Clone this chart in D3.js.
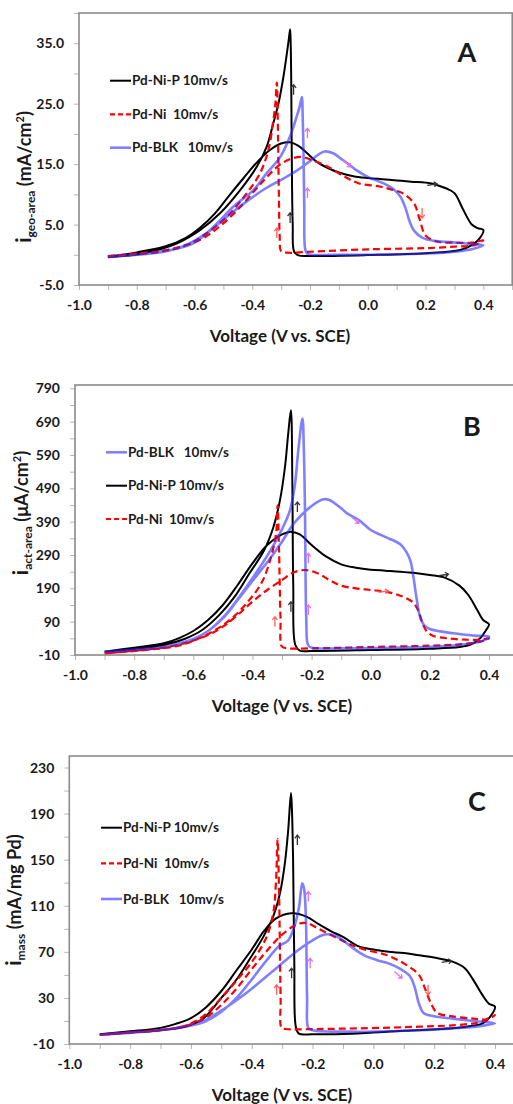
<!DOCTYPE html>
<html><head><meta charset="utf-8">
<script src="https://cdn.jsdelivr.net/npm/d3@7"></script>
<style>
body{margin:0;background:#fff}
svg{display:block}
text{font-family:Lato,"Open Sans",sans-serif;font-weight:bold;fill:#1a1a1a}
.leg{white-space:pre}
</style>
</head><body>
<svg id="c" width="513" height="1104"></svg>
<script>
// ---------- tick labels ----------
const X_TICKS = [-1.0,-0.9,-0.8,-0.7,-0.6,-0.5,-0.4,-0.3,-0.2,-0.1,0.0,0.1,0.2,0.3,0.4,0.5];
const X_LABELS = [-1.0,-0.8,-0.6,-0.4,-0.2,0.0,0.2,0.4];
const Y_LABELS_A = [-5,5,15,25,35];
const Y_LABELS_B = [-10,90,190,290,390,490,590,690,790];
const Y_LABELS_C = [-10,30,70,110,150,190,230];

// ---------- series: [voltage, current] loops (forward scan then reverse scan) ----------
const A_PdNiP = [[-0.9,-0.3],[-0.8,0.4],[-0.7,1.4],[-0.63,2.8],[-0.58,4.5],[-0.53,6.8],[-0.48,9.8],[-0.43,12.7],[-0.38,15.5],[-0.34,17.3],[-0.3,18.4],[-0.27,18.6],[-0.24,18.0],[-0.21,16.8],[-0.18,15.5],[-0.14,14.4],[-0.1,13.6],[-0.05,13.0],[0,12.7],[0.05,12.5],[0.1,12.3],[0.15,12.1],[0.22,11.8],[0.27,11.0],[0.3,10.2],[0.33,7.5],[0.36,5.0],[0.38,4.4],[0.4,4.1],
 [0.385,2.6],[0.36,1.6],[0.32,0.8],[0.2,0.25],[0,-0.05],[-0.2,-0.2],[-0.24,-0.1],[-0.255,0.5],[-0.26,5],[-0.263,15],[-0.265,28],[-0.267,35],[-0.269,37.3],[-0.274,35.5],[-0.28,33.4],[-0.292,29.5],[-0.309,25.1],[-0.327,21.8],[-0.35,17.9],[-0.384,14.6],[-0.442,10.7],[-0.511,6.9],[-0.58,4.1],[-0.66,1.9],[-0.777,0.25],[-0.9,-0.4]];
const A_PdNi = [[-0.9,-0.2],[-0.8,0.2],[-0.72,0.6],[-0.66,1.2],[-0.58,2.5],[-0.51,4.8],[-0.44,8.0],[-0.37,11.8],[-0.31,14.7],[-0.27,15.8],[-0.23,16.2],[-0.19,15.6],[-0.14,14.6],[-0.08,12.9],[-0.03,11.8],[0.04,11.3],[0.09,10.7],[0.12,10.2],[0.16,8.5],[0.18,5.8],[0.2,3.2],[0.24,2.2],[0.3,2.0],[0.36,2.0],[0.4,2.4],
 [0.37,1.6],[0.3,1.35],[0.2,1.1],[0,0.9],[-0.2,0.5],[-0.28,0.35],[-0.3,0.6],[-0.305,3],[-0.308,10],[-0.311,20],[-0.315,28.5],[-0.32,25],[-0.327,22.3],[-0.344,17.4],[-0.373,13.5],[-0.419,10.2],[-0.488,6.3],[-0.557,3.6],[-0.627,1.6],[-0.72,0.5],[-0.9,-0.3]];
const A_PdBLK = [[-0.9,-0.3],[-0.8,0],[-0.75,0.2],[-0.68,0.8],[-0.62,1.8],[-0.57,3.2],[-0.52,5.0],[-0.47,7.0],[-0.42,8.8],[-0.36,10.8],[-0.3,12.4],[-0.25,13.8],[-0.2,15.5],[-0.17,16.6],[-0.15,17.1],[-0.12,16.8],[-0.09,15.8],[-0.07,15.1],[-0.04,14.0],[0,12.9],[0.055,11.8],[0.09,10.8],[0.113,9.6],[0.13,7.8],[0.145,5.5],[0.16,4.0],[0.19,2.8],[0.23,2.3],[0.29,2.1],[0.35,1.8],[0.4,1.6],
 [0.36,0.9],[0.3,0.5],[0.228,0.25],[-0.118,0],[-0.21,0.2],[-0.217,1],[-0.22,8],[-0.223,18],[-0.226,24],[-0.228,26.1],[-0.236,24.5],[-0.246,22.9],[-0.269,19.6],[-0.303,16.2],[-0.35,13.5],[-0.396,10.7],[-0.465,8.0],[-0.534,4.65],[-0.604,1.9],[-0.754,0.25],[-0.9,-0.3]];

const B_PdNiP = [[-0.9,0],[-0.8,12],[-0.7,25],[-0.65,40],[-0.6,62],[-0.55,95],[-0.5,140],[-0.45,200],[-0.4,265],[-0.35,320],[-0.3,352],[-0.27,360],[-0.24,352],[-0.2,320],[-0.15,285],[-0.1,262],[-0.05,252],[0,246],[0.05,243],[0.1,240],[0.15,236],[0.2,230],[0.25,222],[0.3,198],[0.33,170],[0.36,125],[0.38,95],[0.4,82],
 [0.39,65],[0.37,40],[0.34,22],[0.3,14],[0.2,9],[0,5],[-0.2,2],[-0.24,3],[-0.255,20],[-0.262,200],[-0.265,500],[-0.27,724],[-0.279,654],[-0.29,554],[-0.307,454],[-0.329,374],[-0.36,305],[-0.41,235],[-0.46,165],[-0.51,112],[-0.57,65],[-0.63,38],[-0.7,20],[-0.8,8],[-0.9,0]];
const B_PdNi = [[-0.9,-5],[-0.8,3],[-0.7,12],[-0.62,28],[-0.55,50],[-0.5,75],[-0.45,110],[-0.4,150],[-0.35,185],[-0.3,215],[-0.26,238],[-0.22,245],[-0.18,235],[-0.14,215],[-0.1,198],[-0.05,190],[0,185],[0.05,180],[0.1,168],[0.14,150],[0.16,125],[0.175,85],[0.19,60],[0.21,48],[0.26,40],[0.32,36],[0.37,36],[0.4,40],
 [0.37,30],[0.3,22],[0.2,18],[0,14],[-0.2,10],[-0.28,10],[-0.3,15],[-0.305,100],[-0.31,300],[-0.315,439],[-0.32,355],[-0.34,275],[-0.37,205],[-0.42,145],[-0.47,100],[-0.52,68],[-0.58,40],[-0.65,18],[-0.75,6],[-0.9,-5]];
const B_PdBLK = [[-0.9,0],[-0.8,6],[-0.7,15],[-0.6,38],[-0.55,62],[-0.5,100],[-0.45,155],[-0.4,212],[-0.35,268],[-0.3,330],[-0.26,385],[-0.2,437],[-0.16,457],[-0.14,455],[-0.1,430],[-0.08,415],[-0.04,395],[0,365],[0.03,352],[0.06,340],[0.1,322],[0.12,300],[0.135,270],[0.145,220],[0.155,160],[0.165,110],[0.18,80],[0.2,68],[0.28,55],[0.35,48],[0.4,45],
 [0.38,33],[0.3,20],[0.1,12],[-0.1,10],[-0.2,12],[-0.212,20],[-0.218,100],[-0.222,400],[-0.226,600],[-0.231,699],[-0.245,604],[-0.256,504],[-0.273,424],[-0.307,355],[-0.352,285],[-0.42,195],[-0.487,115],[-0.55,62],[-0.6,38],[-0.7,15],[-0.8,6],[-0.9,0]];

const C_PdNiP = [[-0.9,-1.5],[-0.8,1],[-0.7,4],[-0.65,7.5],[-0.6,12.5],[-0.55,22],[-0.5,36],[-0.45,54],[-0.4,72],[-0.36,88],[-0.32,99],[-0.27,103.5],[-0.22,100.6],[-0.18,94],[-0.14,88],[-0.1,83],[-0.05,75],[0,72],[0.05,70],[0.1,69],[0.15,67],[0.2,65],[0.26,61.5],[0.3,56],[0.33,45],[0.36,32],[0.38,25],[0.4,22.4],
 [0.385,14],[0.36,8],[0.33,6],[0.26,3.6],[0.1,1.5],[-0.07,-1],[-0.2,-1.5],[-0.245,-1],[-0.255,5],[-0.26,60],[-0.264,150],[-0.268,195],[-0.271,207.8],[-0.28,176],[-0.291,147],[-0.307,121],[-0.329,101],[-0.362,83],[-0.406,64],[-0.45,46],[-0.5,30],[-0.56,12],[-0.62,5],[-0.7,2],[-0.8,0],[-0.9,-1.5]];
const C_PdNi = [[-0.9,-2],[-0.8,0],[-0.7,2],[-0.6,7],[-0.55,13],[-0.5,24],[-0.45,38],[-0.4,55],[-0.35,71],[-0.3,85],[-0.25,94],[-0.22,95],[-0.18,90],[-0.12,82],[-0.08,77],[-0.03,72],[0.04,67.5],[0.1,60],[0.15,50],[0.17,38],[0.19,25],[0.21,17],[0.26,14],[0.33,12],[0.37,11.5],[0.4,15],
 [0.36,9.5],[0.3,7],[0.15,5],[-0.18,3],[-0.29,3],[-0.302,4],[-0.305,30],[-0.31,120],[-0.315,167.8],[-0.32,132],[-0.329,104],[-0.351,83],[-0.395,63],[-0.45,45],[-0.5,30],[-0.56,14],[-0.63,5],[-0.75,1],[-0.9,-2]];
const C_PdBLK = [[-0.9,-2],[-0.8,0],[-0.7,2],[-0.6,6],[-0.55,11],[-0.5,19],[-0.45,28],[-0.4,38],[-0.35,49],[-0.3,60],[-0.25,71],[-0.2,80],[-0.16,85],[-0.13,84.5],[-0.1,80],[-0.066,73],[-0.03,67],[0.01,63],[0.05,60],[0.09,55],[0.12,49],[0.135,40],[0.15,25],[0.165,17],[0.2,14],[0.26,12],[0.33,10],[0.4,8],
 [0.35,5.5],[0.26,3.6],[0.1,1.5],[-0.07,0.7],[-0.2,2],[-0.214,4],[-0.218,30],[-0.222,100],[-0.228,125],[-0.234,129.6],[-0.245,108],[-0.26,92],[-0.28,80],[-0.31,75],[-0.35,63],[-0.4,46],[-0.45,30],[-0.5,18],[-0.55,10],[-0.6,6],[-0.7,2],[-0.9,-2]];

// ---------- direction arrows drawn on the curves: [voltage, current, direction, series] ----------
const A_ARROWS = [[-0.257,27.3,'up','k'],[-0.269,6.1,'up','k'],[0.223,11.6,'right','k'],[-0.209,20.1,'up','m'],[-0.209,10.2,'up','m'],[-0.072,15.1,'downright','m'],[0.188,6.9,'down','r'],[-0.315,3.6,'up','r']];
const B_ARROWS = [[-0.248,434,'up','k'],[-0.27,135,'up','k'],[0.246,230,'right','k'],[-0.211,280,'up','m'],[-0.211,125,'up','m'],[-0.053,395,'downright','m'],[0.043,180,'right','r'],[-0.324,90,'up','r']];
const C_ARROWS = [[-0.25,167,'up','k'],[-0.269,51.4,'up','k'],[0.241,61.5,'right','k'],[-0.214,118,'up','m'],[-0.208,60,'up','m'],[0.082,50,'downright','m'],[0.18,37,'down','r'],[-0.318,37,'up','r']];

const SERIES_NAMES = {k:'Pd-Ni-P 10mv/s', r:'Pd-Ni  10mv/s', b:'Pd-BLK   10mv/s'};

const STYLE = {
  k:{stroke:'#000', width:2, dash:null, opacity:1},
  r:{stroke:'#ff0000', width:2.2, dash:'7,4', opacity:1},
  b:{stroke:'#2b2bff', width:2.6, dash:null, opacity:0.6}
};
const ARROW_COL = {k:'#333', m:'#e070f0', r:'#ff6060'};

const panels = [
  {letter:'A', x0:79, x1:512.2, yTop:13, yBot:285, yDom:[-5,40], yStep:5, yLabels:Y_LABELS_A, fmt:d=>d.toFixed(1),
   data:{k:A_PdNiP, r:A_PdNi, b:A_PdBLK}, arrows:A_ARROWS,
   legend:{x:110, ys:[80.7,114.3,147.7], keys:['k','r','b']},
   letterPos:[467,62], titleX:280,
   ylab:{x:31, y:177, main:'i', sub:'geo-area', unit:' (mA/cm', sup:'2', tail:')'}},
  {letter:'B', x0:75, x1:518.6, yTop:385, yBot:655, yDom:[-10,800], yStep:50, yLabels:Y_LABELS_B, fmt:d=>String(d),
   data:{k:B_PdNiP, r:B_PdNi, b:B_PdBLK}, arrows:B_ARROWS,
   legend:{x:106, ys:[452.3,485.7,519], keys:['b','k','r']},
   letterPos:[472,436], titleX:282,
   ylab:{x:28, y:513, main:'i', sub:'act-area', unit:' (\u03bcA/cm', sup:'2', tail:')'}},
  {letter:'C', x0:69.3, x1:525.4, yTop:756, yBot:1044, yDom:[-10,240], yStep:20, yLabels:Y_LABELS_C, fmt:d=>String(d),
   data:{k:C_PdNiP, r:C_PdNi, b:C_PdBLK}, arrows:C_ARROWS,
   legend:{x:101, ys:[827.7,863.3,899], keys:['k','r','b']},
   letterPos:[477,811], titleX:282,
   ylab:{x:21, y:900, main:'i', sub:'mass', unit:' (mA/mg Pd)', sup:'', tail:''}}
];

const svg = d3.select('#c');

panels.forEach((p,pi)=>{
  const x = d3.scaleLinear().domain([-1,0.5]).range([p.x0,p.x1]);
  const y = d3.scaleLinear().domain(p.yDom).range([p.yBot,p.yTop]);
  const g = svg.append('g');

  // y axis (minor + major ticks, labels on majors)
  const yTickVals = d3.range(p.yDom[0], p.yDom[1]+1e-9, p.yStep);
  const yAx = d3.axisLeft(y).tickValues(yTickVals).tickSize(5).tickPadding(10)
     .tickFormat(d => p.yLabels.some(v=>Math.abs(v-d)<1e-9) ? p.fmt(d) : '');
  const ya = g.append('g').attr('transform',`translate(${p.x0},0)`).call(yAx);
  ya.select('.domain').remove();
  ya.selectAll('line').attr('stroke','#b5b5b5');
  ya.selectAll('text').attr('font-size',14).attr('font-family','Lato').attr('font-weight','bold').attr('fill','#1a1a1a');

  // x axis
  const xAx = d3.axisBottom(x).tickValues(X_TICKS).tickSize(5).tickPadding(10)
     .tickFormat(d => X_LABELS.some(v=>Math.abs(v-d)<1e-9) ? d.toFixed(1) : '');
  const xa = g.append('g').attr('transform',`translate(0,${p.yBot})`).call(xAx);
  xa.select('.domain').remove();
  xa.selectAll('line').attr('stroke','#b5b5b5');
  xa.selectAll('text').attr('font-size',14).attr('font-family','Lato').attr('font-weight','bold').attr('fill','#1a1a1a');

  // frame
  g.append('rect').attr('x',p.x0).attr('y',p.yTop).attr('width',p.x1-p.x0).attr('height',p.yBot-p.yTop)
    .attr('fill','none').attr('stroke','#8a8a8a').attr('stroke-width',1.6);

  // clip
  const cid = 'clip'+pi;
  svg.append('clipPath').attr('id',cid).append('rect')
    .attr('x',p.x0).attr('y',p.yTop).attr('width',p.x1-p.x0).attr('height',p.yBot-p.yTop);

  const line = d3.line().x(d=>x(d[0])).y(d=>y(d[1])).curve(d3.curveCatmullRom.alpha(0.5));
  const plot = g.append('g').attr('clip-path',`url(#${cid})`);
  ['k','r','b'].forEach(key=>{
    const s = STYLE[key];
    plot.append('path').datum(p.data[key]).attr('d',line)
      .attr('fill','none').attr('stroke',s.stroke).attr('stroke-width',s.width)
      .attr('stroke-opacity',s.opacity).attr('stroke-dasharray',s.dash)
      .attr('stroke-linejoin','round');
  });

  // arrows
  const DIRS = {up:[0,-1], down:[0,1], right:[1,-0.15], downright:[0.75,0.66]};
  p.arrows.forEach(a=>{
    const cx = x(a[0]), cy = y(a[1]);
    let [dx,dy] = DIRS[a[2]]; const n=Math.hypot(dx,dy); dx/=n; dy/=n;
    const L=5, tx=cx+dx*L, ty=cy+dy*L;
    const px=-dy, py=dx, h=3.2;
    const col = ARROW_COL[a[3]];
    const path = `M${cx-dx*L},${cy-dy*L}L${tx},${ty}M${tx-dx*h+px*h*0.8},${ty-dy*h+py*h*0.8}L${tx},${ty}L${tx-dx*h-px*h*0.8},${ty-dy*h-py*h*0.8}`;
    plot.append('path').attr('d',path).attr('fill','none').attr('stroke',col).attr('stroke-width',1.3);
  });

  // legend
  p.legend.keys.forEach((key,i)=>{
    const s = STYLE[key], ly = p.legend.ys[i];
    g.append('line').attr('x1',p.legend.x).attr('x2',p.legend.x+21).attr('y1',ly).attr('y2',ly)
      .attr('stroke',s.stroke).attr('stroke-width',s.width).attr('stroke-opacity',s.opacity)
      .attr('stroke-dasharray',s.dash ? '5,3' : null);
    g.append('text').attr('class','leg').attr('x',p.legend.x+22).attr('y',ly).attr('dy','0.35em')
      .attr('font-size',13.5).text(SERIES_NAMES[key]);
  });

  // panel letter
  g.append('text').attr('x',p.letterPos[0]).attr('y',p.letterPos[1]).attr('text-anchor','middle')
    .attr('font-family','"Liberation Sans",Arial,sans-serif').attr('font-size',27).attr('font-weight','bold')
    .attr('fill','#000').text(p.letter);

  // x title
  g.append('text').attr('x',p.titleX).attr('y',p.yBot+57).attr('text-anchor','middle')
    .attr('font-size',17).text('Voltage (V vs. SCE)');

  // y title
  const yl = g.append('text').attr('transform',`translate(${p.ylab.x},${p.ylab.y}) rotate(-90)`)
    .attr('text-anchor','middle').attr('font-size',18);
  yl.append('tspan').attr('font-size',21).text(p.ylab.main);
  yl.append('tspan').attr('font-size',12).attr('dy',4).text(p.ylab.sub);
  yl.append('tspan').attr('font-size',18).attr('dy',-4).text(p.ylab.unit);
  if (p.ylab.sup) {
    yl.append('tspan').attr('font-size',11).attr('dy',-7).text(p.ylab.sup);
    yl.append('tspan').attr('font-size',18).attr('dy',7).text(p.ylab.tail);
  }
});
</script>
</body></html>
